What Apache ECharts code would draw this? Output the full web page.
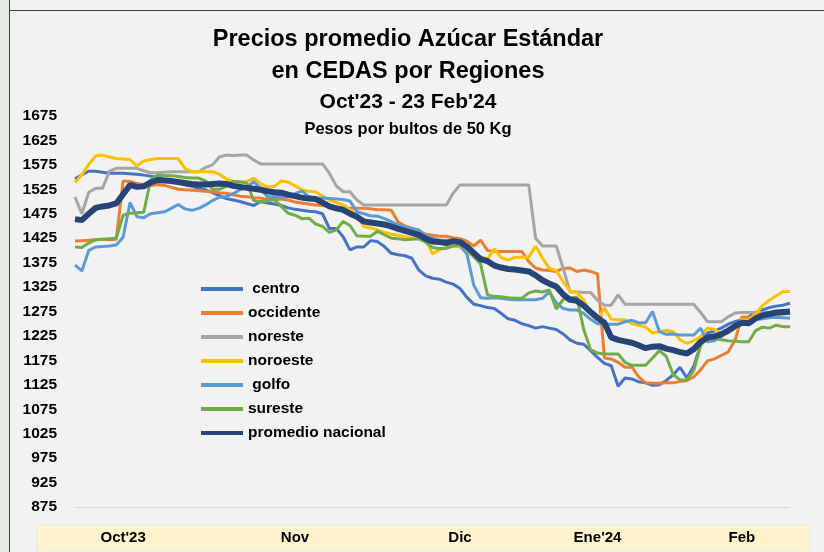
<!DOCTYPE html>
<html>
<head>
<meta charset="utf-8">
<script src="https://cdn.jsdelivr.net/npm/echarts/dist/echarts.min.js"></script>
<style>
    html, body { margin: 0; padding: 0; background: #f2f2f2; }
    #chart { width: 824px; height: 552px; }
</style>
</head>
<body>
<div id="chart"></div>
<script>
// etiquetas de meses y su posición (índice del día)
var monthLabels = ["Oct'23", "Nov", "Dic", "Ene'24", "Feb"];
var monthIdx = [7, 32, 56, 76, 97];

var centro = [1546,1555,1562,1562,1560,1558,1558,1558,1557,1556, 1554,1552,1549,1545,1542,1538,1534,1531,1527,1524,
    1518,1512,1506,1503,1500,1496,1492,1500,1497,1495, 1492,1487,1484,1482,1480,1479,1475,1445,1445,1428,
    1401,1407,1407,1420,1418,1408,1394,1391,1389,1384, 1360,1348,1343,1341,1335,1331,1322,1304,1290,1287,
    1283,1281,1271,1260,1257,1250,1246,1241,1244,1241, 1238,1229,1217,1210,1208,1195,1181,1169,1164,1122,
    1139,1137,1131,1129,1124,1125,1134,1145,1161,1139, 1163,1206,1231,1235,1241,1249,1254,1258,1264,1273,
    1278,1283,1286,1288,1292];
var occidente = [1419,1420,1421,1422,1423,1422,1423,1542,1541,1537, 1535,1533,1535,1533,1529,1525,1524,1523,1522,1521,
    1520,1518,1517,1514,1511,1510,1508,1507,1504,1504, 1505,1503,1499,1497,1495,1493,1492,1490,1489,1488,
    1486,1486,1486,1485,1483,1483,1482,1458,1450,1445, 1440,1433,1431,1429,1429,1426,1424,1419,1409,1421,
    1400,1398,1398,1398,1398,1398,1377,1364,1360,1359, 1357,1363,1364,1357,1360,1357,1352,1180,1178,1171,
    1161,1161,1141,1129,1128,1128,1129,1129,1132,1134, 1141,1156,1174,1178,1185,1192,1216,1264,1263,1267,
    1268,1268,1269,1270,1271];
var noreste = [1509,1475,1519,1527,1527,1562,1568,1568,1568,1568, 1563,1559,1559,1560,1561,1561,1561,1561,1561,1570,
    1575,1591,1595,1594,1595,1595,1585,1577,1577,1577, 1577,1577,1577,1577,1577,1577,1577,1558,1532,1520,
    1520,1503,1493,1493,1493,1493,1493,1493,1493,1493, 1493,1493,1493,1493,1493,1517,1534,1534,1534,1534,
    1534,1534,1534,1534,1534,1534,1534,1425,1409,1409, 1409,1364,1315,1315,1314,1314,1298,1288,1288,1309,
    1290,1290,1290,1290,1290,1290,1290,1290,1290,1290, 1290,1273,1254,1254,1254,1264,1272,1273,1273,1273,
    1273,1273,1273,1273,1273];
var noroeste = [1539,1555,1576,1593,1595,1591,1588,1587,1586,1573, 1583,1586,1588,1588,1588,1588,1568,1561,1561,1561,
    1561,1556,1546,1541,1540,1541,1548,1536,1530,1531, 1542,1540,1532,1524,1521,1520,1511,1503,1498,1493,
    1483,1472,1449,1446,1442,1437,1433,1431,1428,1426, 1426,1422,1393,1401,1406,1409,1407,1394,1390,1387,
    1382,1403,1385,1380,1386,1386,1386,1409,1384,1363, 1359,1336,1317,1314,1298,1270,1258,1282,1259,1258,
    1258,1250,1247,1243,1231,1234,1236,1234,1217,1210, 1215,1224,1241,1238,1231,1231,1241,1258,1258,1270,
    1287,1298,1307,1316,1316];
var golfo = [1370,1358,1400,1407,1408,1409,1411,1427,1498,1469, 1467,1475,1477,1479,1486,1494,1485,1482,1486,1493,
    1502,1509,1510,1516,1524,1529,1541,1526,1510,1510, 1510,1510,1516,1522,1510,1507,1507,1506,1505,1504,
    1501,1479,1475,1471,1470,1465,1459,1452,1448,1445, 1442,1430,1425,1421,1421,1421,1411,1393,1329,1303,
    1302,1303,1302,1300,1299,1299,1299,1299,1302,1315, 1293,1281,1278,1278,1271,1259,1250,1249,1249,1249,
    1254,1257,1252,1252,1275,1234,1228,1229,1227,1227, 1227,1241,1213,1215,1224,1235,1245,1249,1255,1258,
    1260,1262,1263,1262,1261];
var sureste = [1407,1406,1415,1422,1423,1424,1425,1472,1476,1477, 1478,1544,1554,1553,1553,1551,1549,1548,1548,1542,
    1525,1525,1531,1541,1540,1538,1502,1499,1501,1504, 1490,1476,1472,1465,1466,1454,1449,1437,1442,1459,
    1451,1430,1429,1429,1439,1432,1425,1424,1422,1423, 1424,1417,1406,1404,1404,1409,1411,1404,1387,1372,
    1309,1306,1305,1303,1302,1302,1313,1317,1315,1319, 1280,1300,1303,1304,1238,1197,1190,1188,1188,1188,
    1171,1165,1165,1165,1180,1195,1183,1146,1135,1135, 1154,1206,1220,1219,1217,1215,1214,1213,1213,1236,
    1243,1241,1247,1244,1244];
var promedio = [1464,1462,1475,1487,1490,1492,1496,1515,1534,1530, 1531,1539,1544,1543,1542,1540,1538,1536,1535,1535,
    1536,1537,1536,1532,1530,1528,1526,1524,1521,1519, 1518,1514,1511,1508,1506,1505,1498,1490,1486,1483,
    1475,1469,1459,1457,1455,1453,1449,1444,1440,1436, 1432,1424,1418,1417,1415,1419,1417,1408,1395,1382,
    1378,1369,1365,1362,1361,1359,1357,1349,1339,1332, 1326,1310,1299,1297,1287,1274,1262,1252,1222,1217,
    1214,1211,1206,1200,1203,1204,1199,1196,1192,1189, 1198,1213,1222,1224,1228,1236,1245,1252,1251,1261,
    1267,1270,1273,1274,1275];

// eje x: un punto por día hábil
var dias = [];
for (var i = 0; i < promedio.length; i++) {
    dias.push(String(i));
}

var chart = echarts.init(document.getElementById('chart'));

function linea(name, data, color, width) {
    return {
        name: name,
        type: 'line',
        data: data,
        symbol: 'none',
        lineStyle: { color: color, width: width },
        itemStyle: { color: color }
    };
}

var option = {
    backgroundColor: '#f2f2f2',
    animation: false,
    textStyle: { fontFamily: 'Liberation Sans' },
    title: [
        { text: 'Precios promedio Azúcar Estándar', left: 408, textAlign: 'center', top: 28, padding: 0,
          textStyle: { fontSize: 23.5, fontWeight: 'bold', color: '#000' } },
        { text: 'en CEDAS por Regiones', left: 408, textAlign: 'center', top: 60, padding: 0,
          textStyle: { fontSize: 23.5, fontWeight: 'bold', color: '#000' } },
        { text: "Oct'23 - 23 Feb'24", left: 408, textAlign: 'center', top: 92, padding: 0,
          textStyle: { fontSize: 21, fontWeight: 'bold', color: '#000' } },
        { text: 'Pesos por bultos de 50 Kg', left: 408, textAlign: 'center', top: 121, padding: 0,
          textStyle: { fontSize: 16.5, fontWeight: 'bold', color: '#000' } }
    ],
    grid: { left: 75, right: 34, top: 116, bottom: 45 },
    legend: {
        orient: 'vertical',
        left: 201,
        top: 280,
        padding: 0,
        icon: 'rect',
        itemWidth: 42,
        itemHeight: 4,
        itemGap: 6,
        textStyle: { fontSize: 15.5, fontWeight: 'bold', color: '#000', lineHeight: 18 },
        data: [' centro', 'occidente', 'noreste', 'noroeste', ' golfo', 'sureste', 'promedio nacional']
    },
    xAxis: {
        type: 'category',
        data: dias,
        boundaryGap: false,
        axisLine: { lineStyle: { color: '#d9d9d9', width: 1 } },
        axisTick: { show: false },
        splitLine: { show: false },
        axisLabel: {
            interval: function(idx) { return monthIdx.indexOf(idx) >= 0; },
            formatter: function(v, idx) {
                var k = monthIdx.indexOf(idx);
                return k >= 0 ? monthLabels[k] : '';
            },
            margin: 23,
            fontSize: 15,
            fontWeight: 'bold',
            color: '#000'
        }
    },
    yAxis: {
        type: 'value',
        min: 875,
        max: 1675,
        interval: 25,
        axisLine: { show: false },
        axisTick: { show: false },
        splitLine: { show: false },
        axisLabel: {
            formatter: function(v) { return (v - 875) % 50 === 0 ? v : ''; },
            margin: 18,
            fontSize: 15.5,
            fontWeight: 'bold',
            color: '#000'
        }
    },
    graphic: [
        { type: 'rect', z: -10, shape: { x: 37, y: 525, width: 773, height: 26 },
          style: { fill: '#fff2cc', stroke: '#e2efda', lineWidth: 1 } },
        { type: 'rect', z: -10, shape: { x: 0, y: 0, width: 9, height: 552 },
          style: { fill: '#e5ebe5' } },
        { type: 'line', z: -5, shape: { x1: 9.5, y1: 0, x2: 9.5, y2: 552 },
          style: { stroke: '#404040', lineWidth: 1 } },
        { type: 'line', z: -5, shape: { x1: 10, y1: 10.5, x2: 824, y2: 10.5 },
          style: { stroke: '#404040', lineWidth: 1 } }
    ],
    series: [
        linea(' centro', centro, '#4472C4', 3),
        linea('occidente', occidente, '#ED7D31', 3),
        linea('noreste', noreste, '#A5A5A5', 3),
        linea('noroeste', noroeste, '#FFC000', 3),
        linea(' golfo', golfo, '#5B9BD5', 3),
        linea('sureste', sureste, '#70AD47', 3),
        linea('promedio nacional', promedio, '#264478', 6)
    ]
};
chart.setOption(option);
</script>
</body>
</html>
